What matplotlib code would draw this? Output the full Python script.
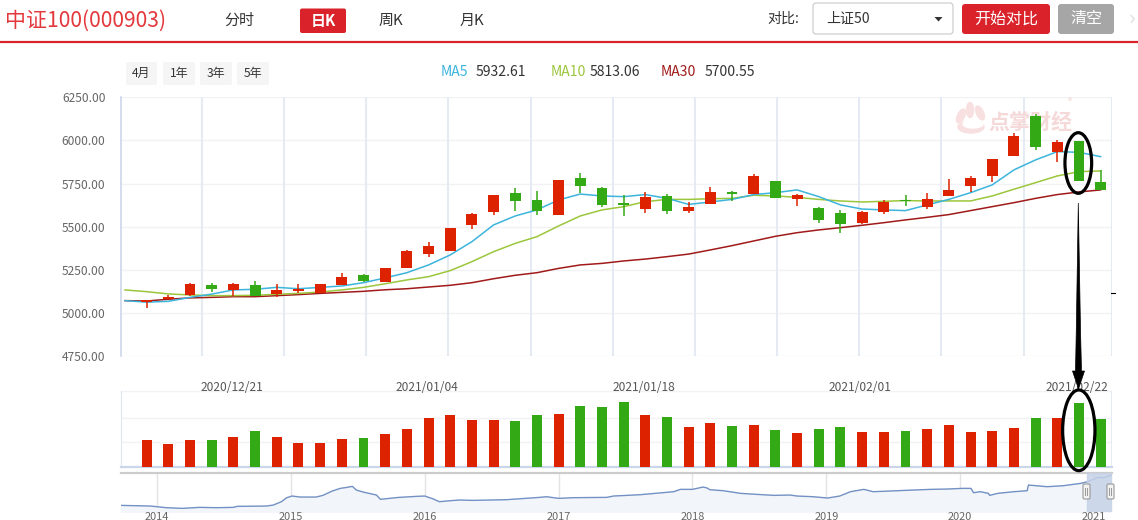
import numpy as np
import matplotlib
matplotlib.use("Agg")
import matplotlib.pyplot as plt
from matplotlib.patches import FancyBboxPatch, Ellipse, Polygon, Rectangle
from matplotlib.transforms import blended_transform_factory

plt.rcParams['font.family'] = ['Noto Sans CJK SC', 'DejaVu Sans']

# ---------------- data ----------------
opens = [5062, 5080, 5104, 5162, 5133, 5162, 5110, 5128, 5117, 5164,
         5220, 5181, 5262, 5343, 5361, 5512, 5587, 5693, 5655, 5570,
         5780, 5724, 5636, 5601, 5678, 5593, 5633, 5701, 5689, 5765,
         5662, 5608, 5579, 5523, 5587, 5652, 5616, 5678, 5738, 5796,
         5912, 6142, 5933, 5997, 5759]
closes = [5073, 5092, 5167, 5140, 5167, 5098, 5133, 5138, 5167, 5208,
          5187, 5260, 5359, 5388, 5492, 5573, 5682, 5647, 5593, 5771,
          5738, 5628, 5624, 5672, 5593, 5614, 5701, 5690, 5794, 5668,
          5682, 5541, 5517, 5585, 5645, 5649, 5660, 5713, 5782, 5892,
          6026, 5964, 5991, 5767, 5715]
highs = [5075, 5104, 5175, 5175, 5175, 5185, 5167, 5167, 5169, 5233,
         5227, 5262, 5365, 5411, 5493, 5581, 5684, 5724, 5707, 5773,
         5811, 5728, 5682, 5701, 5689, 5641, 5730, 5709, 5805, 5767,
         5689, 5616, 5597, 5593, 5655, 5684, 5695, 5776, 5794, 5894,
         6041, 6153, 6003, 5999, 5829]
lows = [5026, 5078, 5100, 5123, 5100, 5096, 5094, 5115, 5113, 5162,
        5181, 5178, 5260, 5326, 5360, 5488, 5568, 5593, 5570, 5568,
        5697, 5616, 5564, 5581, 5573, 5581, 5631, 5651, 5687, 5666,
        5622, 5523, 5465, 5515, 5573, 5620, 5604, 5678, 5703, 5761,
        5910, 5945, 5877, 5765, 5713]
volumes = [82, 70, 82, 82, 91, 109, 91, 73, 73, 85,
           88, 100, 115, 148, 157, 142, 142, 139, 157, 160,
           184, 181, 196, 157, 151, 121, 133, 124, 127, 112,
           103, 115, 121, 106, 106, 109, 115, 127, 106, 109,
           118, 148, 148, 193, 145]
# moving averages, first value belongs to the (hidden) day before the first candle
ma5 = [5071, 5062, 5067, 5090, 5109, 5133, 5137, 5148, 5140, 5148, 5156,
       5175, 5203, 5233, 5278, 5336, 5413, 5510, 5562, 5597, 5655,
       5689, 5678, 5674, 5686, 5664, 5629, 5643, 5658, 5686, 5697,
       5713, 5674, 5626, 5602, 5597, 5593, 5626, 5658, 5697, 5742,
       5829, 5887, 5935, 5931, 5906]
ma10 = [5133, 5123, 5110, 5104, 5100, 5100, 5102, 5108, 5113, 5121, 5133,
        5148, 5169, 5191, 5210, 5245, 5297, 5355, 5403, 5442, 5504,
        5562, 5597, 5616, 5645, 5658, 5658, 5662, 5664, 5682, 5678,
        5670, 5658, 5649, 5643, 5647, 5651, 5649, 5649, 5649, 5678,
        5717, 5755, 5794, 5819, 5823]
ma30 = [5071, 5069, 5079, 5087, 5090, 5094, 5094, 5100, 5106, 5113, 5119,
        5125, 5134, 5140, 5150, 5160, 5175, 5198, 5218, 5233, 5258,
        5278, 5287, 5301, 5312, 5326, 5341, 5365, 5390, 5417, 5444,
        5465, 5481, 5494, 5508, 5523, 5539, 5554, 5570, 5593, 5616,
        5639, 5664, 5686, 5701, 5713]
ma_legend = [("MA5", "5932.61"), ("MA10", "5813.06"), ("MA30", "5700.55")]
price_ticks = [4750, 5000, 5250, 5500, 5750, 6000, 6250]
date_labels = ["2020/12/21", "2021/01/04", "2021/01/18", "2021/02/01", "2021/02/22"]
date_label_idx = [4, 13, 23, 33, 43]

nav_t = [2013.73, 2013.95, 2014.00, 2014.07, 2014.19, 2014.32, 2014.45, 2014.57,
         2014.60, 2014.82, 2014.87, 2014.93, 2014.97, 2015.01, 2015.07, 2015.19,
         2015.24, 2015.31, 2015.37, 2015.42, 2015.46, 2015.49, 2015.54, 2015.64,
         2015.67, 2015.69, 2015.81, 2015.94, 2016.00, 2016.06, 2016.11, 2016.19,
         2016.26, 2016.36, 2016.61, 2016.86, 2016.91, 2017.00, 2017.11, 2017.36,
         2017.41, 2017.61, 2017.86, 2017.91, 2018.00, 2018.08, 2018.11, 2018.13,
         2018.23, 2018.36, 2018.48, 2018.61, 2018.73, 2018.78, 2018.90, 2019.01,
         2019.10, 2019.15, 2019.18, 2019.28, 2019.35, 2019.53, 2019.65, 2019.78,
         2019.90, 2020.02, 2020.08, 2020.10, 2020.15, 2020.21, 2020.22, 2020.28,
         2020.40, 2020.50, 2020.51, 2020.65, 2020.77, 2020.90, 2020.95, 2021.03,
         2021.07, 2021.13]
nav_v = [2478, 2399, 2319, 2200, 2120, 2239, 2200, 2239,
         2359, 2399, 2518, 2916, 3394, 3593, 3473, 3473,
         3672, 4190, 4508, 4627, 4747, 4309, 4070, 3712,
         3195, 3234, 3433, 3553, 3593, 3274, 2916, 3035,
         3115, 3075, 3155, 3433, 3513, 3314, 3394, 3433,
         3593, 3752, 4110, 4389, 4389, 4667, 4548, 4349,
         4229, 3911, 3792, 3672, 3712, 3593, 3513, 3354,
         3593, 3911, 4110, 4389, 4110, 4229, 4309, 4389,
         4428, 4508, 4508, 3991, 4110, 3911, 3672, 3911,
         4110, 4229, 4906, 4707, 4826, 5105, 5304, 5821,
         5782, 6100]
nav_years = [2014, 2015, 2016, 2017, 2018, 2019, 2020, 2021]
nav_selection = (2020.95, 2021.13)

# ---------------- layout ----------------
W, H = 1138, 520
PT = 0.72
RED = '#dd2200'
GREEN = '#33a915'
C5, C10, C30 = '#3cb4dc', '#9cc63c', '#a11a1a'
LABEL = '#666666'

fig = plt.figure(figsize=(W / 100, H / 100), dpi=100)
fig.patch.set_facecolor('white')


def rect(l, t, r, b):
    return [l / W, 1 - b / H, (r - l) / W, (b - t) / H]


L, R = 120.7, 1111.5
slot = 21.68
x_first = 146.7
n = len(opens)
xmin = -(x_first - L) / slot
xmax = (n - 1) + (R - (x_first + (n - 1) * slot)) / slot

# overlay in pixel coordinates
ov = fig.add_axes([0, 0, 1, 1], zorder=10)
ov.set_xlim(0, W)
ov.set_ylim(H, 0)
ov.axis('off')
ov.patch.set_alpha(0)

opens_a = np.array(opens, float)
closes_a = np.array(closes, float)
highs_a = np.array(highs, float)
lows_a = np.array(lows, float)
xs = np.arange(n)
up = closes_a >= opens_a
cols = np.where(up, RED, GREEN)

# ---------------- main candle axes ----------------
ax = fig.add_axes(rect(L, 97.3, R, 356.0))
ax.set_xlim(xmin, xmax)
ax.set_ylim(price_ticks[0], price_ticks[-1])
ax.set_yticks(price_ticks)
ax.set_yticklabels([f'{v:.2f}' for v in price_ticks])
ax.tick_params(axis='y', length=0, pad=11, labelsize=12 * PT, labelcolor=LABEL)
ax.set_xticks([])
for s in ['top', 'bottom', 'right']:
    ax.spines[s].set_visible(False)
ax.spines['left'].set_color('#ccd6eb')
ax.spines['left'].set_linewidth(1.2)
for v in price_ticks:
    ax.axhline(v, color='#f0f2f6', lw=1.0, zorder=0)
vgrid = 2.55 + 3.79 * np.arange(11)
for gx in vgrid:
    ax.axvline(gx, color='#e6ebf3', lw=1.5, zorder=0)
ax.axvline(xmax, color='#e6ebf3', lw=1.5, zorder=0)

# watermark (behind the candles)
WM = '#f8e0e0'
wm_kw = dict(transform=ov.transData, zorder=0.5, clip_on=False)
for (cx, cy, w, h, a) in [(961, 116, 7, 15, 25), (970, 110, 7, 15, 0), (980, 113, 7, 15, -25)]:
    ax.add_patch(Ellipse((cx, cy), w, h, angle=a, color=WM, **wm_kw))
ax.add_patch(Ellipse((971, 127), 26, 12, color=WM, **wm_kw))
ax.add_patch(Ellipse((973, 124), 20, 8, color='white', **wm_kw))
ax.text(988, 122, '点掌财经', color='#f5d8d8', fontsize=21 * PT, fontweight='bold',
        ha='left', va='center', **wm_kw)
ax.text(1068, 102, '®', color='#f5d8d8', fontsize=8 * PT, ha='left', va='center', **wm_kw)

xm = np.arange(-1, n)
ax.plot(xm, ma30, color=C30, lw=1.1, zorder=3)
ax.plot(xm, ma10, color=C10, lw=1.1, zorder=3)
ax.plot(xm, ma5, color=C5, lw=1.1, zorder=3)

ax.vlines(xs, lows_a, highs_a, colors=cols, lw=1.1, zorder=4)
body_bottom = np.minimum(opens_a, closes_a)
body_h = np.maximum(np.abs(closes_a - opens_a), 3)
ax.bar(xs, body_h, bottom=body_bottom, width=0.5, color=cols, linewidth=0, zorder=5)

# ---------------- volume axes ----------------
axv = fig.add_axes(rect(L, 390.7, R, 467.3))
axv.set_xlim(xmin, xmax)
axv.set_ylim(0, 230)
axv.set_xticks([])
axv.set_yticks([])
for v in [76, 147, 229]:
    axv.axhline(v, color='#f0f2f6', lw=1.0, zorder=0)
for s in ['top', 'right']:
    axv.spines[s].set_visible(False)
axv.axvline(xmax, color='#e6ebf3', lw=1.5, zorder=0)
axv.spines['left'].set_color('#e0e6ef')
axv.spines['bottom'].set_color('#ccd6eb')
axv.spines['bottom'].set_linewidth(1.6)
axv.bar(xs, volumes, width=0.46, color=cols, linewidth=0, zorder=3)
tr = blended_transform_factory(axv.transData, ov.transData)
for lab, idx in zip(date_labels, date_label_idx):
    axv.text(idx - 0.08, 387.5, lab, transform=tr, ha='center', va='center',
             fontsize=12 * PT, color='#555555', clip_on=False, zorder=6)

# ---------------- navigator ----------------
axn = fig.add_axes(rect(L, 472.7, R, 511.7))
axn.set_xlim(2013.73, 2021.13)
axn.set_ylim(1722, 6379)
axn.set_xticks([])
axn.set_yticks([])
for s in ['left', 'right', 'bottom']:
    axn.spines[s].set_visible(False)
axn.spines['top'].set_color('#cccccc')
axn.spines['top'].set_linewidth(1.6)
for yv in nav_years:
    axn.axvline(yv, color='#e3e3e3', lw=1.0, zorder=0)
axn.fill_between(nav_t, nav_v, 1722, color='#f2f5fa', zorder=1)
axn.plot(nav_t, nav_v, color='#7391c4', lw=1.0, zorder=2)
axn.axvspan(nav_selection[0], nav_selection[1], color='#c6d2e8', alpha=0.85, zorder=3)
trn = blended_transform_factory(axn.transData, ov.transData)
for yv in nav_years:
    axn.text(yv, 519.5, str(yv), transform=trn, ha='center', va='baseline',
             fontsize=11 * PT, color=LABEL, clip_on=False, zorder=6)

# navigator handles
for hx in [1086.5, 1110.5]:
    ov.add_patch(FancyBboxPatch((hx - 3.5, 484), 7, 15, boxstyle='round,pad=0,rounding_size=1.5',
                                fc='#f2f2f2', ec='#999999', lw=0.8))
    ov.plot([hx - 1, hx - 1], [488, 495], color='#999999', lw=0.7)
    ov.plot([hx + 1, hx + 1], [488, 495], color='#999999', lw=0.7)

# ---------------- header ----------------
ov.text(5, 21, '中证100(000903)', color='#e4393c', fontsize=21 * PT, ha='left', va='center')
ov.text(239, 21, '分时', color='#333333', fontsize=15 * PT, ha='center', va='center')
ov.add_patch(FancyBboxPatch((300, 8.5), 46, 24.5, boxstyle='round,pad=0,rounding_size=2',
                            fc='#d9222a', ec='none'))
ov.text(323, 21, '日K', color='white', fontsize=15 * PT, ha='center', va='center', fontweight='bold')
ov.text(391, 21, '周K', color='#333333', fontsize=15 * PT, ha='center', va='center')
ov.text(472, 21, '月K', color='#333333', fontsize=15 * PT, ha='center', va='center')
ov.text(783, 19, '对比:', color='#333333', fontsize=14 * PT, ha='center', va='center')
ov.add_patch(FancyBboxPatch((813, 3), 140, 31, boxstyle='round,pad=0,rounding_size=3',
                            fc='white', ec='#c8c8c8', lw=0.8))
ov.text(826, 19, '上证50', color='#333333', fontsize=14 * PT, ha='left', va='center')
ov.add_patch(Polygon([[934.5, 17], [942.5, 17], [938.5, 21.5]], closed=True, fc='#333333', ec='none'))
ov.add_patch(FancyBboxPatch((962, 4), 88, 30, boxstyle='round,pad=0,rounding_size=3',
                            fc='#d9222a', ec='none'))
ov.text(1006, 19, '开始对比', color='white', fontsize=16 * PT, ha='center', va='center')
ov.add_patch(FancyBboxPatch((1058, 4), 56, 30, boxstyle='round,pad=0,rounding_size=3',
                            fc='#a6a6a6', ec='none'))
ov.text(1086, 19, '清空', color='white', fontsize=16 * PT, ha='center', va='center')
ov.text(1129, 19, '›', color='#e0e0e0', fontsize=22 * PT, ha='left', va='center')
ov.plot([0, W], [41.7, 41.7], color='#d9222a', lw=2.2 * PT, solid_capstyle='butt')

# range buttons
for lab, (x0, x1) in zip(['4月', '1年', '3年', '5年'],
                         [(126, 157), (163, 195), (200, 232), (237, 269)]):
    ov.add_patch(FancyBboxPatch((x0, 62), x1 - x0, 23, boxstyle='round,pad=0,rounding_size=2',
                                fc='#f5f5f5', ec='none'))
    ov.text((x0 + x1) / 2, 73.5, lab, color='#333333', fontsize=12 * PT, ha='center', va='center')

# MA legend
for (name, val), c, (xn, xv) in zip(ma_legend, [C5, C10, C30],
                                     [(441, 476), (551, 590), (661, 705)]):
    ov.text(xn, 72, name, color=c, fontsize=14 * PT, ha='left', va='center')
    ov.text(xv, 72, val, color='#333333', fontsize=14 * PT, ha='left', va='center')

# ---------------- annotations ----------------
ov.add_patch(Ellipse((1078.3, 163), 26.7, 60.6, fill=False, ec='black', lw=3.2 * PT))
ov.add_patch(Ellipse((1078.8, 430.3), 32.3, 80.7, fill=False, ec='black', lw=3.2 * PT))
ov.add_patch(Polygon([[1078.3, 203], [1080.5, 330], [1081.5, 371], [1084.5, 371],
                      [1078.5, 389], [1072.5, 371], [1075.5, 371], [1076.3, 330]],
                     closed=True, fc='black', ec='black', lw=0.5))
ov.plot([1111, 1115], [293, 293], color='black', lw=0.8)

fig.savefig('out.png', dpi=100, facecolor='white')
